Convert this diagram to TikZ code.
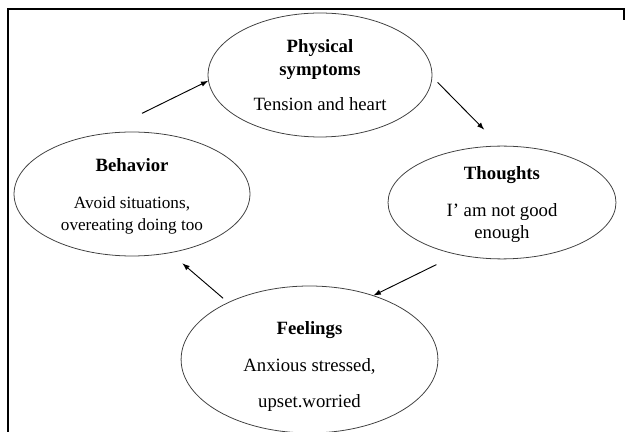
\documentclass[tikz,border=0pt]{standalone}
\usepackage{fontspec}
\setmainfont{Liberation Serif}
\usetikzlibrary{shapes.geometric}

\begin{document}
\begin{tikzpicture}[x=0.0225cm, y=-0.0225cm, >=latex,
    bubble/.style={ellipse, draw=black!75, line width=0.5pt, inner sep=0pt,
        align=center, font=\fontsize{12}{14}\selectfont},
    link/.style={->, line width=0.6pt}]
        \useasboundingbox (0,0) rectangle (625,432);
        % Frame
        \draw[line width=0.7pt] (8,432) -- (8,9) -- (624,9) -- (624,20);
        % Nodes
        \node[bubble, minimum width=5.04cm, minimum height=2.79cm] (physical) at (320,75)
            {\textbf{Physical}\\[0.7pt]\textbf{symptoms}\\[8pt]Tension and heart};
        \node[bubble, minimum width=5.13cm, minimum height=2.5cm] (thoughts) at (502,202.5)
            {\rule{0pt}{11pt}\textbf{Thoughts}\\[9.5pt]I’ am not good\\enough};
        \node[bubble, minimum width=5.31cm, minimum height=2.79cm] (behavior) at (132,194)
            {\rule{0pt}{11pt}\textbf{Behavior}\\[10pt]\fontsize{11}{13}\selectfont Avoid situations,\\\fontsize{11}{13}\selectfont overeating doing too};
        \node[bubble, minimum width=5.78cm, minimum height=3.17cm] (feelings) at (309.5,359.5)
            {\rule{0pt}{17pt}\textbf{Feelings}\\[10pt]Anxious stressed,\\[9pt]upset.worried};
        % Edges
        \draw[link, shorten <=1.05cm] (behavior.118) -- (physical.183);
        \draw[link, shorten <=0.17cm, shorten >=0.51cm] (physical.-1) -- (thoughts.92);
        \draw[link, shorten <=0.51cm] (thoughts.229) -- (feelings.45);
        \draw[link, shorten <=0.14cm, shorten >=0.36cm] (feelings.145) -- (behavior.303);
\end{tikzpicture}
\end{document}
